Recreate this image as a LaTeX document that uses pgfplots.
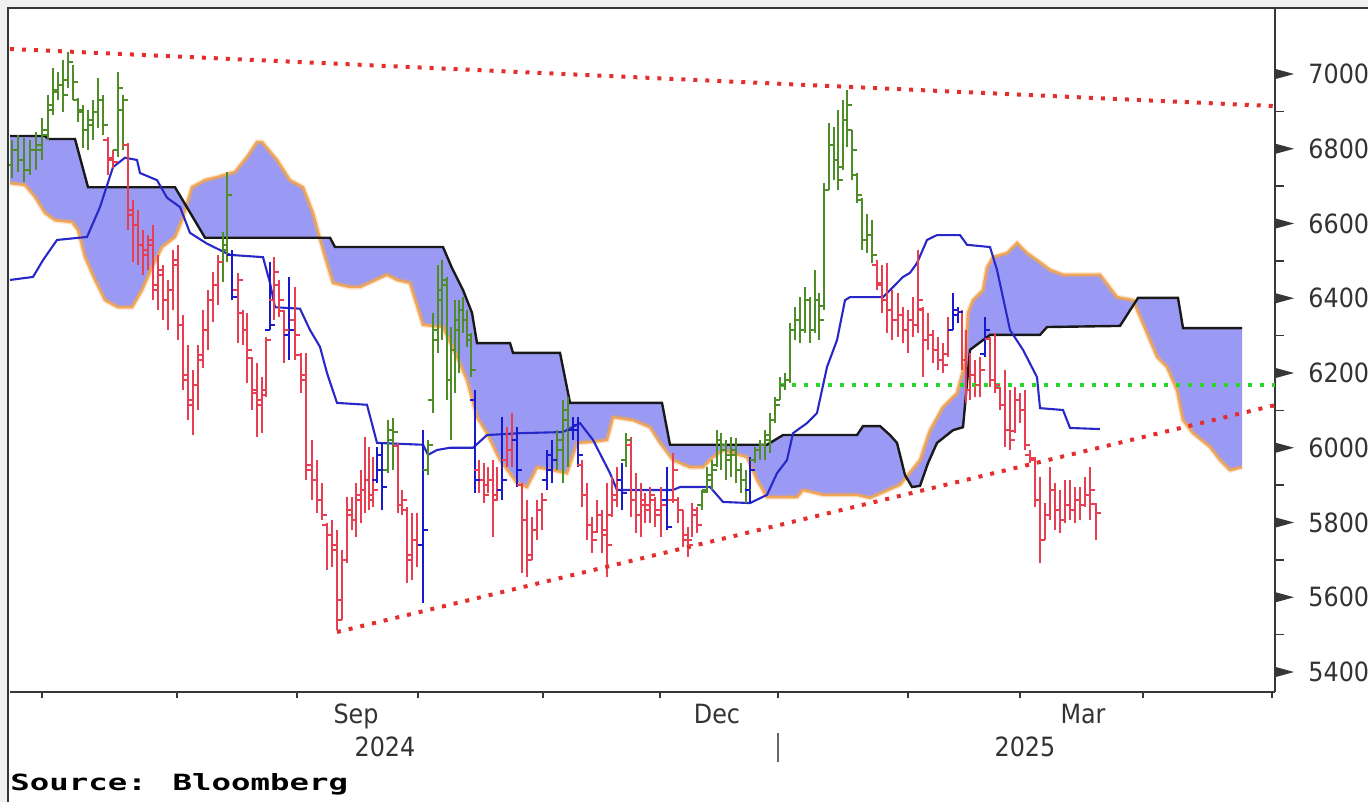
\documentclass[border=0pt]{standalone}
\usepackage{fontspec}
\setmainfont{DejaVu Sans}[FakeStretch=0.9]
\newfontfamily\srcfont{DejaVu Sans Mono}[FakeStretch=1.45]
\usepackage{pgfplots}
\usepackage{pgfplotstable}
\pgfplotsset{compat=1.18}
\usepgfplotslibrary{fillbetween}

\definecolor{cloudfill}{RGB}{154,154,245}
\definecolor{spanA}{RGB}{238,165,85}
\definecolor{spanB}{RGB}{25,25,25}
\definecolor{kline}{RGB}{40,40,200}
\definecolor{barG}{RGB}{78,140,40}
\definecolor{barR}{RGB}{232,62,82}
\definecolor{barB}{RGB}{25,25,205}
\definecolor{trendR}{RGB}{228,45,45}
\definecolor{levelG}{RGB}{40,215,40}
\definecolor{framegray}{RGB}{55,55,55}
\definecolor{outgray}{RGB}{240,240,240}

\pgfdeclareplotmark{otick}{\pgfpathmoveto{\pgfqpoint{-2.4bp}{0pt}}\pgfpathlineto{\pgfqpoint{0pt}{0pt}}\pgfusepathqstroke}
\pgfdeclareplotmark{ctick}{\pgfpathmoveto{\pgfqpoint{0pt}{0pt}}\pgfpathlineto{\pgfqpoint{2.4bp}{0pt}}\pgfusepathqstroke}
\pgfdeclareplotmark{rtri}{\pgfpathmoveto{\pgfqpoint{0pt}{2.6bp}}\pgfpathlineto{\pgfqpoint{9.5bp}{0pt}}\pgfpathlineto{\pgfqpoint{0pt}{-2.6bp}}\pgfpathclose\pgfusepathqfill}

% OHLC bars: x position, high, low, open, close
\pgfplotstableread{
x h l o c
12 6823 6722 6757 6797
18 6837 6738 6797 6770
24 6829 6711 6770 6743
30 6823 6730 6743 6797
36 6845 6743 6797 6810
42 6883 6770 6797 6850
48 6944 6823 6837 6917
53 7016 6891 6904 6957
58 7006 6930 6952 6971
63 7037 6899 6971 6944
68 7059 6963 6984 7032
73 7024 6930 7032 6979
78 6936 6872 6930 6904
83 6917 6802 6899 6850
88 6904 6797 6850 6877
93 6930 6823 6864 6899
98 6990 6856 6899 6930
103 6944 6837 6930 6864
118 7006 6778 6797 6963
123 6944 6797 6904 6930
223 6578 6444 6497 6543
227 6738 6497 6529 6677
388 6074 5932 5940 6047
393 6079 5940 6021 6042
428 6021 5927 5940 6008
433 6361 6093 6128 6315
438 6489 6254 6288 6422
442 6502 6288 6395 6449
447 6457 6128 6436 6181
451 6323 6021 6181 6262
455 6395 6146 6262 6342
459 6395 6200 6315 6369
463 6403 6307 6369 6342
467 6369 6269 6342 6302
471 6307 6189 6288 6208
557 6047 5940 5967 6021
563 6128 5906 5994 6101
568 6135 5948 6074 6047
626 6039 5948 5967 6021
702 5887 5833 5847 5882
707 5948 5879 5887 5927
712 5967 5887 5914 5940
717 6047 5948 5954 6021
721 6039 5940 6021 5994
726 6021 5914 6008 5981
731 6028 5921 5967 5994
736 6026 5906 5981 5940
741 5959 5879 5940 5914
746 5940 5852 5914 5887
755 6002 5959 5967 5994
760 6021 5967 5994 6008
765 6047 5967 6008 6034
770 6093 5986 6021 6074
775 6135 6066 6074 6115
780 6189 6128 6128 6168
785 6200 6154 6168 6181
790 6334 6173 6181 6315
795 6376 6288 6315 6342
800 6403 6280 6342 6315
805 6430 6307 6315 6395
810 6403 6280 6395 6315
815 6476 6307 6315 6395
819 6414 6288 6395 6342
824 6708 6369 6380 6690
829 6869 6690 6690 6810
834 6858 6716 6810 6770
838 6904 6690 6770 6716
843 6930 6743 6750 6877
847 6957 6804 6877 6917
852 6850 6716 6850 6797
857 6735 6655 6730 6677
862 6669 6529 6663 6556
867 6626 6521 6556 6570
872 6609 6494 6570 6516
}\greenbars

\pgfplotstableread{
x h l o c
108 6831 6730 6823 6770
113 6797 6749 6776 6765
128 6815 6583 6810 6623
133 6663 6497 6636 6596
138 6636 6489 6596 6543
143 6583 6463 6543 6516
148 6570 6476 6529 6543
153 6596 6395 6556 6422
158 6516 6369 6436 6476
163 6489 6342 6463 6395
168 6449 6315 6395 6422
173 6529 6369 6422 6489
178 6543 6288 6502 6329
183 6356 6154 6329 6181
188 6275 6074 6195 6115
193 6208 6034 6128 6168
198 6275 6101 6168 6235
203 6369 6214 6249 6315
208 6422 6262 6315 6395
213 6471 6337 6395 6436
218 6516 6382 6436 6497
238 6468 6280 6422 6449
243 6369 6275 6360 6315
247 6361 6173 6315 6262
252 6243 6101 6240 6146
257 6227 6028 6154 6128
262 6189 6039 6115 6141
266 6296 6135 6154 6288
274 6510 6342 6395 6471
279 6449 6350 6436 6395
284 6369 6227 6365 6315
295 6430 6235 6342 6302
301 6254 6146 6249 6195
306 6254 5914 6181 5940
312 6021 5860 5954 5914
317 5967 5825 5914 5860
322 5906 5807 5860 5820
327 5799 5673 5794 5767
332 5807 5681 5767 5726
337 5780 5512 5740 5539
342 5726 5539 5593 5700
347 5868 5692 5700 5833
352 5868 5780 5820 5807
356 5906 5761 5807 5874
361 5940 5799 5860 5887
365 6028 5825 5887 5914
369 6002 5833 5914 5860
373 5975 5841 5874 5887
398 6013 5825 6005 5847
402 5887 5820 5847 5860
407 5841 5638 5833 5700
412 5825 5646 5713 5753
417 5825 5681 5753 5740
479 5967 5879 5940 5914
484 5959 5852 5914 5874
488 5948 5879 5901 5914
493 5967 5761 5914 5860
497 5948 5860 5874 5887
507 6055 5948 5967 5994
512 6093 5948 5994 6021
522 5906 5665 5901 5807
527 5860 5654 5807 5700
532 5814 5700 5713 5780
537 5860 5753 5780 5833
542 5879 5780 5833 5860
582 5967 5841 5954 5874
587 5906 5753 5874 5794
592 5814 5718 5794 5753
597 5860 5772 5775 5820
602 5833 5718 5820 5767
607 5906 5654 5780 5740
612 5921 5815 5820 5860
617 5948 5841 5874 5914
631 6028 5815 6008 5860
636 5932 5772 5860 5820
641 5906 5761 5820 5860
645 5879 5799 5847 5833
650 5895 5799 5847 5874
655 5868 5788 5860 5820
661 5895 5761 5833 5847
673 5986 5852 5860 5940
678 5868 5799 5860 5833
683 5833 5734 5833 5767
688 5788 5707 5753 5740
692 5852 5761 5753 5833
697 5841 5772 5820 5794
877 6502 6422 6489 6441
882 6489 6361 6436 6395
887 6494 6307 6395 6369
892 6422 6288 6369 6342
898 6414 6296 6342 6356
903 6376 6280 6356 6315
908 6369 6254 6315 6342
913 6403 6296 6342 6329
918 6529 6307 6329 6395
923 6376 6189 6370 6288
928 6361 6262 6288 6302
933 6315 6227 6302 6262
938 6296 6208 6262 6235
943 6280 6200 6235 6222
948 6350 6243 6250 6315
962 6369 6208 6364 6235
966 6315 6120 6235 6154
970 6254 6128 6154 6195
975 6235 6135 6195 6168
980 6243 6135 6168 6208
990 6296 6162 6290 6181
995 6307 6146 6181 6168
1000 6162 6101 6160 6115
1005 6208 6002 6115 6047
1010 6154 5994 6047 6021
1015 6162 6039 6045 6128
1020 6146 6066 6128 6101
1025 6154 5994 6101 6008
1030 5994 5959 5981 5973
1035 5975 5841 5967 5860
1040 5921 5692 5860 5753
1045 5852 5753 5753 5820
1050 5948 5807 5820 5887
1055 5906 5780 5887 5833
1060 5887 5772 5833 5807
1065 5914 5799 5807 5847
1070 5914 5807 5847 5833
1075 5895 5799 5833 5860
1080 5895 5807 5860 5847
1085 5921 5841 5847 5874
1090 5948 5807 5874 5887
1096 5852 5753 5850 5825
}\redbars

\pgfplotstableread{
x h l o c
232 6529 6395 6516 6403
270 6497 6315 6315 6329
289 6457 6235 6302 6315
377 6002 5906 5914 5981
382 6013 5833 5940 5895
423 6047 5585 5740 5780
475 6154 5879 6128 5914
502 6082 5860 5887 5914
517 6055 5895 6021 5940
547 5994 5887 5914 5981
552 6021 5906 5940 5967
573 6082 6021 6047 6061
578 6082 5948 6047 5981
622 5959 5833 5914 5879
667 5948 5780 5860 5788
750 5975 5852 5887 5940
953 6414 6315 6315 6369
958 6376 6334 6356 6364
985 6350 6243 6250 6315
}\bluebars

% Leading cloud span (orange)
\pgfplotstableread{
x y
10 6708
25 6703
35 6671
45 6628
55 6609
72 6604
78 6583
85 6510
95 6449
105 6395
118 6376
132 6376
142 6422
152 6483
162 6537
175 6564
182 6609
192 6697
205 6716
217 6724
235 6738
247 6778
257 6818
262 6818
277 6770
290 6716
303 6697
313 6628
323 6529
333 6441
350 6430
360 6430
387 6463
397 6449
410 6441
423 6329
443 6323
457 6243
467 6181
477 6082
487 6039
500 5967
517 5906
527 5895
537 5948
553 5940
567 5932
577 6013
593 6016
607 6021
613 6082
633 6074
650 6055
660 6013
673 5967
690 5948
703 5948
713 5975
723 5994
747 5975
757 5914
767 5868
797 5868
803 5887
823 5874
857 5874
870 5866
900 5901
920 5967
930 6047
943 6109
957 6146
965 6227
968 6361
973 6395
983 6422
987 6483
993 6510
1007 6521
1017 6548
1027 6521
1037 6502
1050 6476
1063 6463
1100 6463
1117 6403
1133 6395
1147 6307
1157 6243
1167 6216
1177 6154
1183 6074
1193 6039
1210 6002
1220 5967
1230 5940
1242 5948
}\spanAtab

% Lagging cloud span (black)
\pgfplotstableread{
x y
10 6834
45 6834
48 6826
75 6826
88 6697
175 6697
205 6562
330 6562
335 6537
443 6537
452 6481
463 6422
472 6361
477 6280
510 6280
513 6254
560 6254
570 6120
662 6120
670 6008
767 6008
783 6034
857 6034
863 6058
880 6058
890 6034
897 6013
905 5927
912 5895
920 5898
928 5959
937 6013
953 6047
963 6055
970 6262
983 6288
990 6302
1040 6302
1047 6323
1120 6326
1138 6401
1178 6401
1183 6320
1242 6320
}\spanBtab

% Blue line
\pgfplotstableread{
x y
10 6449
33 6457
43 6502
57 6556
87 6564
100 6644
113 6751
125 6776
137 6770
140 6735
157 6716
167 6669
180 6644
190 6575
207 6546
220 6529
230 6516
263 6510
270 6441
275 6376
300 6372
310 6315
320 6270
327 6200
337 6120
367 6115
377 6013
423 6008
428 5981
437 5994
450 6000
473 6000
487 6034
520 6039
563 6042
580 6066
593 6021
610 5932
617 5887
673 5887
680 5895
710 5895
723 5855
750 5852
767 5874
777 5932
787 5967
793 6039
807 6066
817 6093
827 6216
837 6288
845 6395
850 6403
883 6403
893 6430
903 6457
910 6468
917 6494
927 6556
937 6569
960 6569
967 6543
990 6537
997 6476
1010 6315
1023 6262
1037 6189
1040 6106
1063 6101
1070 6053
1100 6050
}\bluetab

\pgfplotsset{
  ohlc/.style={draw=none, mark=none, forget plot,
    error bars/.cd, y dir=plus, y explicit, error mark=none,
    error bar style={line width=1.1bp, solid, draw=#1}},
}

\begin{document}
\begin{tikzpicture}
\fill[outgray, even odd rule] (0,0) rectangle (684bp,-401bp) (4bp,-4bp) rectangle (684bp,-401bp);

\begin{axis}[
  at={(5bp,-346bp)}, anchor=south west,
  width=632.5bp, height=341.5bp, scale only axis,
  xmin=10, xmax=1275, ymin=5346.5, ymax=7173.9,
  axis x line*=bottom, axis y line*=right,
  axis line style={framegray, line width=1bp},
  clip=false, set layers,
  xtick={42,177,297,418,543,660,778,908,1020,1143,1272},
  xticklabels={},
  extra x ticks={356,717,1083},
  extra x tick labels={Sep,Dec,Mar},
  extra x tick style={major tick length=0pt, xticklabel style={anchor=base, yshift=-15.5bp}},
  ytick={5400,5600,...,7000},
  minor ytick={5500,5700,...,6900},
  tick align=outside,
  major tick length=3bp, minor tick length=4.5bp,
  ytick style={/pgfplots/major tick length=0pt},
  tick style={framegray, line width=0.8bp},
  yticklabel style={anchor=west, inner sep=0pt, xshift=13.5bp, font=\fontsize{13.3}{15}\selectfont, text=black!80},
  xticklabel style={font=\fontsize{13.3}{15}\selectfont, text=black!80},
  /pgf/number format/1000 sep={},
  /pgf/number format/assume math mode=true,
]

% cloud
\addplot[name path=spA, spanA, line width=1.2bp, preaction={draw=spanA, draw opacity=0.3, line width=2.6bp}] table[x=x,y=y] {\spanAtab};
\addplot[name path=spB, spanB, line width=1.2bp] table[x=x,y=y] {\spanBtab};
\addplot[cloudfill] fill between[of=spA and spB];

% blue line
\addplot[kline, line width=1.05bp] table[x=x,y=y] {\bluetab};

% bars
\addplot[ohlc=barG] table[x=x, y=l, y error expr=\thisrow{h}-\thisrow{l}] {\greenbars};
\addplot[barG, only marks, mark=otick, mark options={line width=1.05bp}] table[x=x, y=o] {\greenbars};
\addplot[barG, only marks, mark=ctick, mark options={line width=1.05bp}] table[x=x, y=c] {\greenbars};

\addplot[ohlc=barR] table[x=x, y=l, y error expr=\thisrow{h}-\thisrow{l}] {\redbars};
\addplot[barR, only marks, mark=otick, mark options={line width=1.05bp}] table[x=x, y=o] {\redbars};
\addplot[barR, only marks, mark=ctick, mark options={line width=1.05bp}] table[x=x, y=c] {\redbars};

\addplot[ohlc=barB] table[x=x, y=l, y error expr=\thisrow{h}-\thisrow{l}] {\bluebars};
\addplot[barB, only marks, mark=otick, mark options={line width=1.05bp}] table[x=x, y=o] {\bluebars};
\addplot[barB, only marks, mark=ctick, mark options={line width=1.05bp}] table[x=x, y=c] {\bluebars};

% trend lines
\addplot[trendR, line width=2bp, dash pattern=on 2bp off 4bp] coordinates {(10,7067) (1275,6914)};
\addplot[trendR, line width=2bp, dash pattern=on 2bp off 4bp] coordinates {(337,5507) (1275,6114)};
\addplot[levelG, line width=1.8bp, dash pattern=on 2bp off 4bp] coordinates {(780,6168) (1275,6168)};

% major y tick arrows
\addplot[framegray, only marks, mark=rtri] coordinates {(1275,5400) (1275,5600) (1275,5800) (1275,6000) (1275,6200) (1275,6400) (1275,6600) (1275,6800) (1275,7000)};
\end{axis}

\begin{scope}[x=0.5bp,y=-0.5bp]
\draw[framegray, line width=1bp] (8,802) -- (8,8) -- (1368,8);
\draw[black!60, line width=0.6bp] (778,733) -- (778,762);
\node[anchor=base, font=\fontsize{13.3}{15}\selectfont, text=black!80, inner sep=0pt] at (385,757) {2024};
\node[anchor=base, font=\fontsize{13.3}{15}\selectfont, text=black!80, inner sep=0pt] at (1025,757) {2025};
\node[anchor=base west, font=\srcfont\bfseries\fontsize{11.2}{12}\selectfont, inner sep=0pt] at (10,791) {Source: Bloomberg};
\end{scope}

\pgfresetboundingbox
\path[use as bounding box] (0,0) rectangle (684bp,-401bp);
\end{tikzpicture}
\end{document}
